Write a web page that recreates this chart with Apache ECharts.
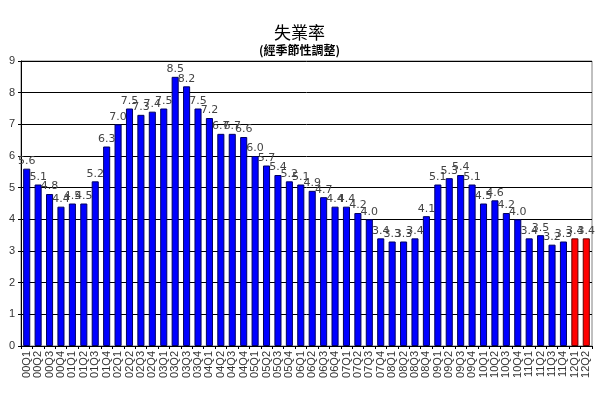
<!DOCTYPE html>
<html>
<head>
<meta charset="utf-8">
<script src="https://cdn.jsdelivr.net/npm/echarts@6/dist/echarts.min.js"></script>
<style>
html,body{margin:0;padding:0;background:#fff;}
#main{width:599px;height:399px;}
</style>
</head>
<body>
<div id="main"></div>
<script>
var quarters=['00Q1','00Q2','00Q3','00Q4','01Q1','01Q2','01Q3','01Q4','02Q1','02Q2','02Q3','02Q4',
'03Q1','03Q2','03Q3','03Q4','04Q1','04Q2','04Q3','04Q4','05Q1','05Q2','05Q3','05Q4',
'06Q1','06Q2','06Q3','06Q4','07Q1','07Q2','07Q3','07Q4','08Q1','08Q2','08Q3','08Q4',
'09Q1','09Q2','09Q3','09Q4','10Q1','10Q2','10Q3','10Q4','11Q1','11Q2','11Q3','11Q4','12Q1','12Q2'];
var rates=[5.6,5.1,4.8,4.4,4.5,4.5,5.2,6.3,7.0,7.5,7.3,7.4,
7.5,8.5,8.2,7.5,7.2,6.7,6.7,6.6,6.0,5.7,5.4,5.2,
5.1,4.9,4.7,4.4,4.4,4.2,4.0,3.4,3.3,3.3,3.4,4.1,
5.1,5.3,5.4,5.1,4.5,4.6,4.2,4.0,3.4,3.5,3.2,3.3,3.4,3.4];
var latest=['12Q1','12Q2']; // 最新數字用紅色

var myChart=echarts.init(document.getElementById('main'));
var font='Arial, "Liberation Sans", "Noto Sans CJK TC", sans-serif';

var option={
  animation:false,
  title:{
    text:'失業率',
    subtext:'(經季節性調整)',
    left:'center',
    top:19,
    itemGap:3,
    textStyle:{fontFamily:'"Noto Sans CJK TC", sans-serif',fontSize:17,fontWeight:'normal',color:'#000'},
    subtextStyle:{fontFamily:'"Noto Sans CJK TC", sans-serif',fontSize:12,fontWeight:'bold',color:'#000'}
  },
  grid:{left:21,right:7,top:61,bottom:53,show:true,borderColor:'#808080',borderWidth:1},
  xAxis:{
    type:'category',
    data:quarters,
    axisLine:{lineStyle:{color:'#000',width:1}},
    axisTick:{show:true,inside:false,length:3,lineStyle:{color:'#000'}},
    axisLabel:{rotate:90,interval:0,fontFamily:font,fontSize:11,color:'#333',margin:5}
  },
  yAxis:{
    type:'value',
    min:0,max:9,interval:1,
    axisLine:{show:true,lineStyle:{color:'#000'}},
    axisTick:{show:true,length:3,lineStyle:{color:'#000'}},
    axisLabel:{fontFamily:font,fontSize:11,color:'#333',margin:6},
    splitLine:{lineStyle:{color:'#000',width:1}}
  },
  series:[{
    type:'bar',
    barCategoryGap:'38%',
    data:rates.map(function(v,i){
      var red=latest.indexOf(quarters[i])>=0;
      return {value:v,itemStyle:{color:red?'#ff0000':'#0000ff',borderColor:red?'#600000':'#000060',borderWidth:1}};
    }),
    label:{
      show:true,position:'top',distance:2,
      fontFamily:'Tahoma, "DejaVu Sans", sans-serif',fontSize:11,color:'#444',
      formatter:function(p){return p.value.toFixed(1);}
    }
  }]
};
myChart.setOption(option);
</script>
</body>
</html>
